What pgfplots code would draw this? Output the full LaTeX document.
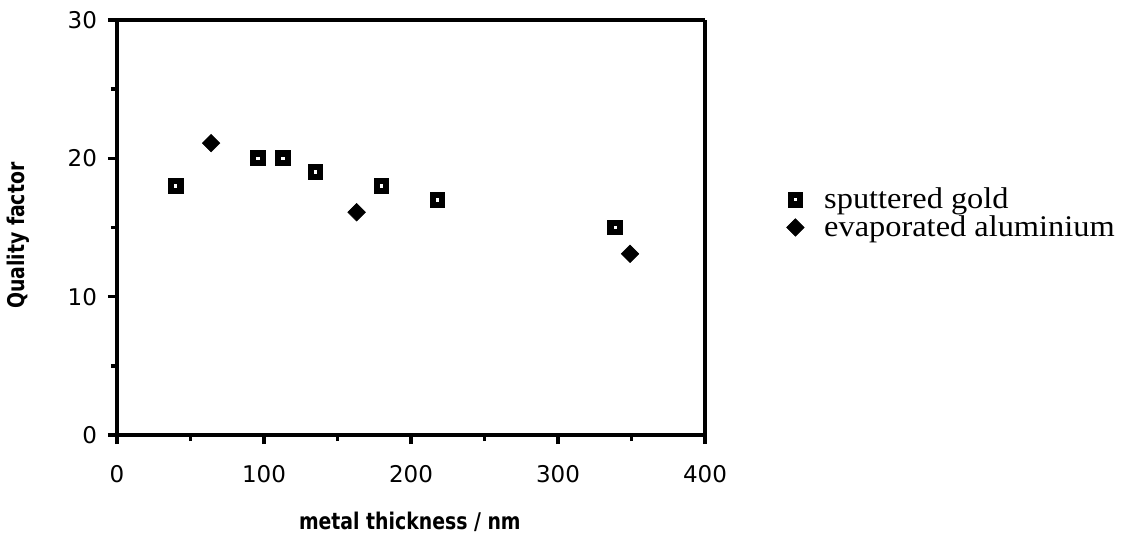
\documentclass[border=0pt]{standalone}
\usepackage{fontspec}
\usepackage{pgfplots}
\pgfplotsset{compat=1.18}
\newfontfamily\labelfont{DejaVu Sans}
\newfontfamily\axlabfont[FakeStretch=0.82]{DejaVu Sans}
\newfontfamily\legfont[FakeStretch=1.08]{Liberation Serif}

\begin{document}
\begin{tikzpicture}
\begin{axis}[
  at={(0,0)}, anchor=origin,
  scale only axis,
  width=294pt, height=207.5pt,
  xmin=0, xmax=400, ymin=0, ymax=30,
  xtick={0,100,200,300,400},
  ytick={0,10,20,30},
  minor xtick={50,150,250,350},
  minor ytick={5,15,25},
  tick align=outside,
  tick pos=left,
  major tick length=4.5pt,
  minor tick length=3pt,
  separate axis lines,
  axis line style={line width=2pt},
  every outer x axis line/.append style={line width=2pt},
  every outer y axis line/.append style={line width=2pt},
  every tick/.style={line width=1.7pt, black},
  tick label style={font=\labelfont\fontsize{11.5}{12}\selectfont},
  /pgf/number format/assume math mode=true,
  xticklabel style={yshift=-7pt},
  yticklabel style={xshift=-2pt},
  xlabel={metal thickness / nm},
  ylabel={Quality factor},
  label style={font=\axlabfont\bfseries\fontsize{11.5}{13}\selectfont},
  xlabel style={at={(axis description cs:0.498,-0.21)}, anchor=center},
  ylabel style={at={(axis description cs:-0.168,0.48)}, anchor=center, rotate=0},
  legend style={draw=none, fill=none, at={(axis description cs:1.128,0.616)}, anchor=north west,
    font=\legfont\fontsize{15}{17}\selectfont, row sep=-2pt},
  legend cell align=left,
]
% sputtered gold
\addplot[only marks, mark=square, mark size=2.4pt, line width=3.1pt, black]
  coordinates {(40,18) (96,20) (113,20) (135,19) (180,18) (218,17) (339,15)};
\addlegendentry{\hspace*{8pt}sputtered gold}
% evaporated aluminium
\addplot[only marks, mark=square*, mark size=3.1pt, line width=0.3pt, black,
  mark options={rotate=45}]
  coordinates {(64,21.1) (163,16.1) (349,13.1)};
\addlegendentry{\hspace*{8pt}evaporated aluminium}
\end{axis}
\path[use as bounding box] (-58.5pt,-56pt) rectangle (509pt,217.5pt);
\end{tikzpicture}
\end{document}
